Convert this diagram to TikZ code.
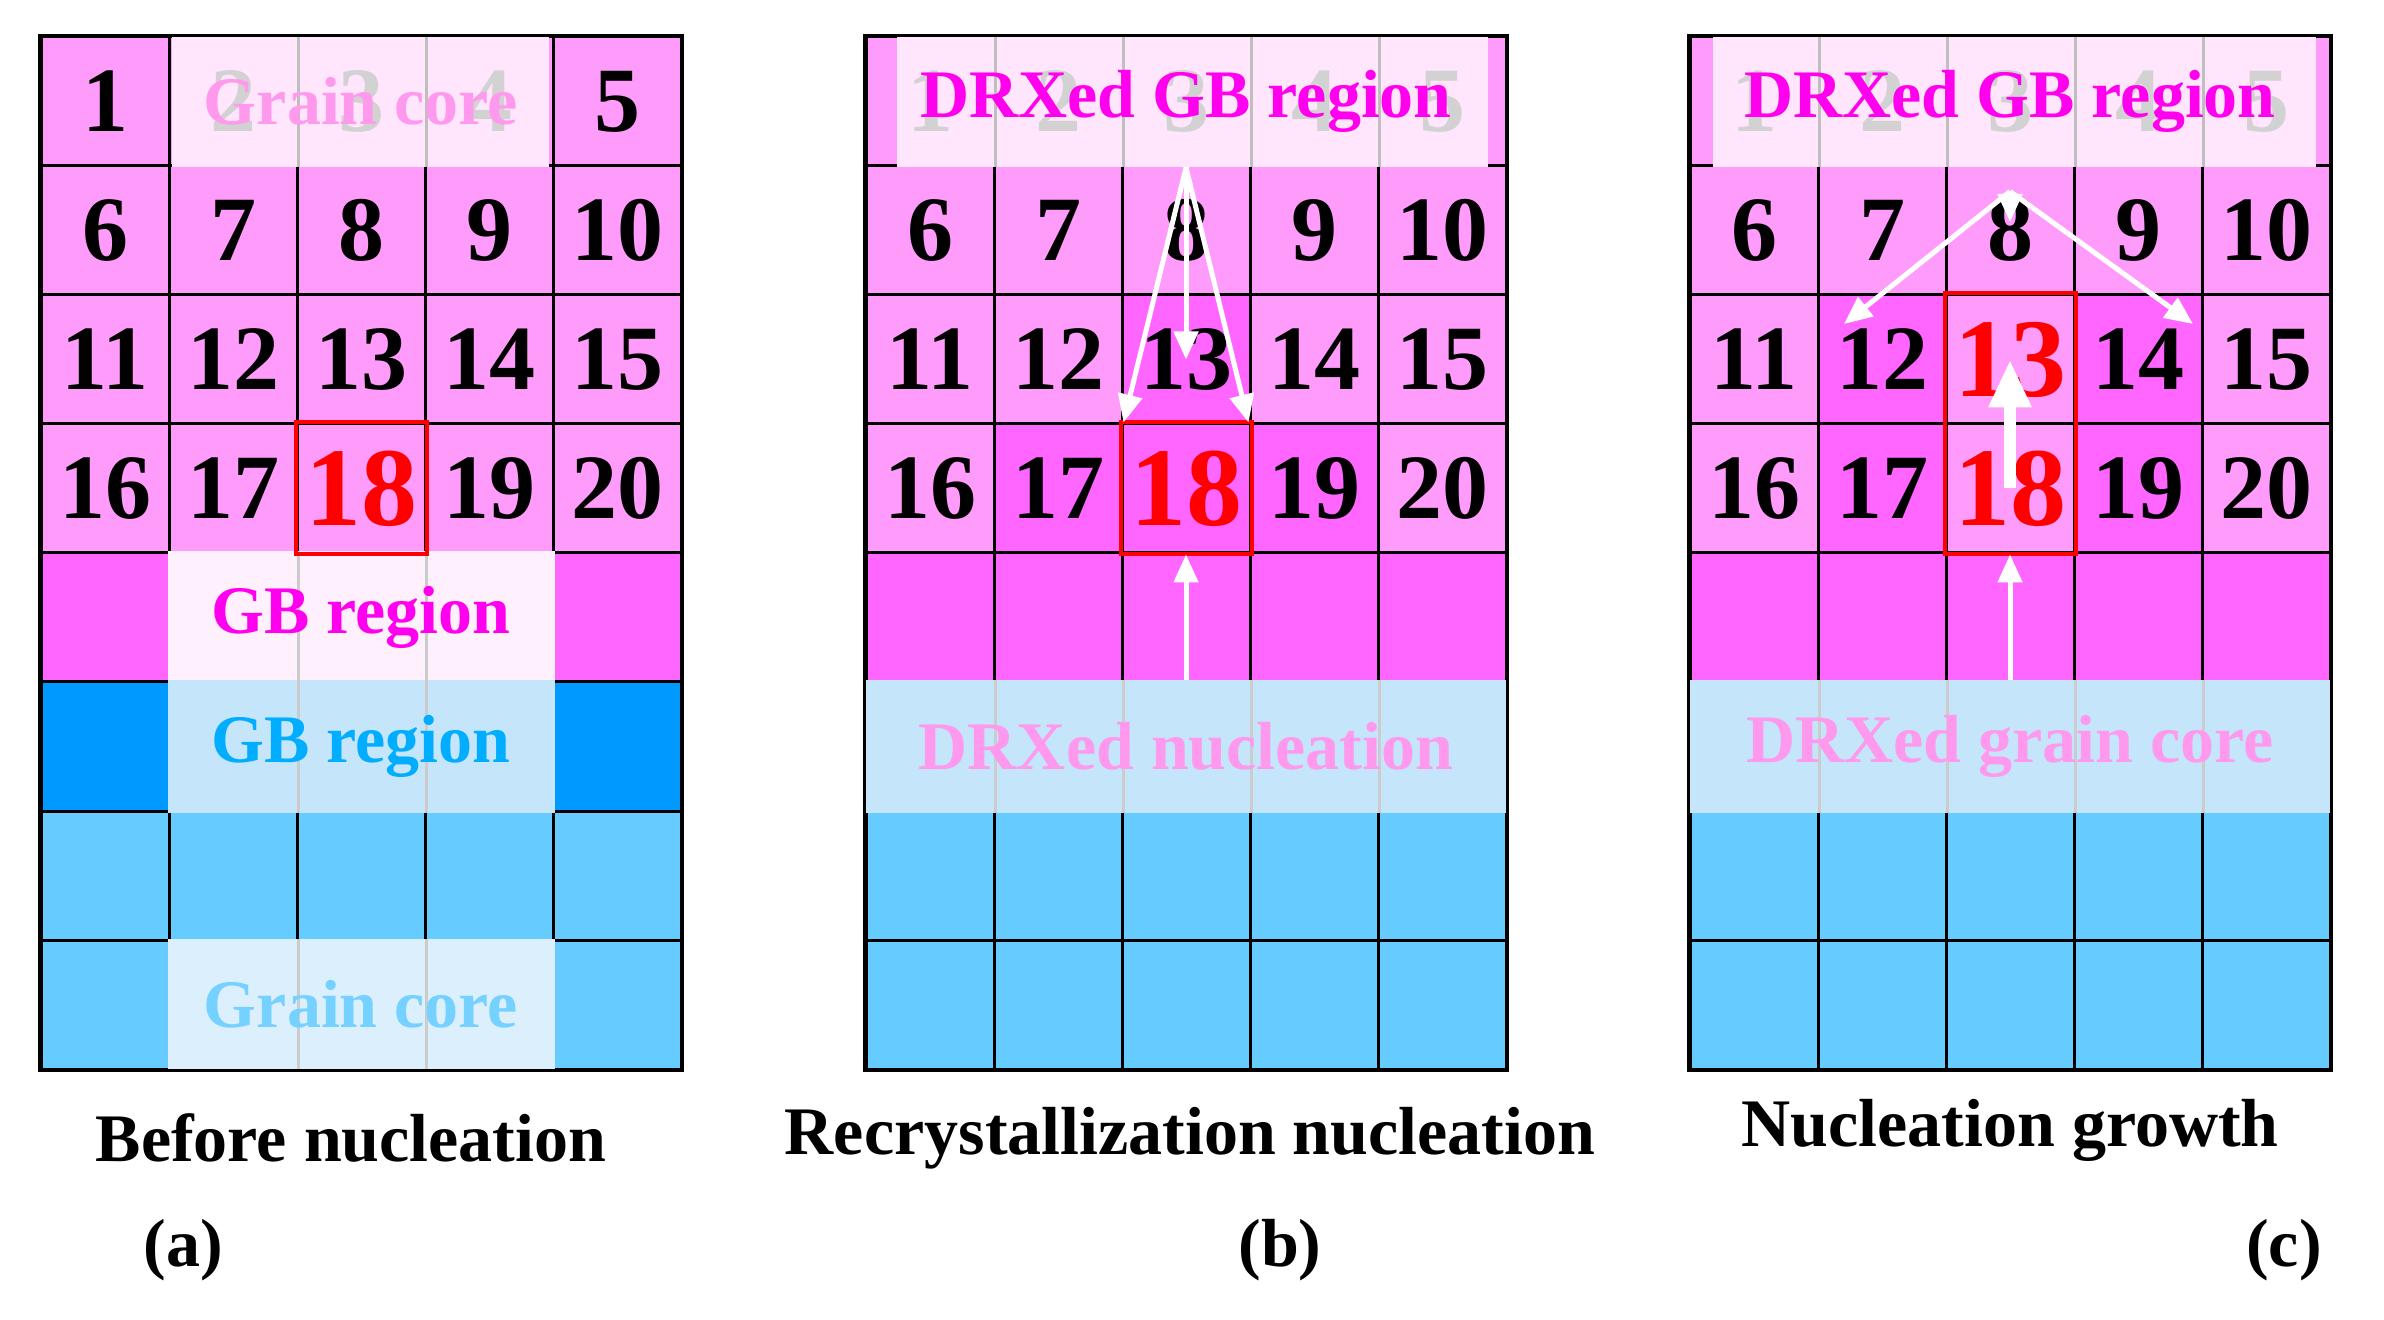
\documentclass[tikz,border=0pt]{standalone}
\usepackage{fontspec}
\setmainfont{Liberation Serif}
\usetikzlibrary{arrows.meta}
\definecolor{LP}{HTML}{FF9BFA}
\definecolor{MG}{HTML}{FF66FF}
\definecolor{BL}{HTML}{0099FF}
\definecolor{LB}{HTML}{66CCFF}
\definecolor{ovP}{HTML}{FFE6FC}
\definecolor{ovB}{HTML}{C5E5FA}
\definecolor{txP}{HTML}{FF99EE}
\definecolor{txM}{HTML}{FF00EE}
\tikzset{
 cell/.style={draw=black,line width=1.5pt,minimum width=64pt,minimum height=64.5pt,inner sep=0pt,font=\fontsize{46}{46}\selectfont\bfseries},
 bigred/.style={text=red,font=\fontsize{56}{56}\selectfont\bfseries},
 redbox/.style={draw=red,line width=2pt},
 wa/.style={draw=white,line width=2.5pt,-{Triangle[length=14pt,width=12pt]}},
 lbl/.style={font=\fontsize{34}{34}\selectfont\bfseries,inner sep=0pt},
 captxt/.style={font=\fontsize{34}{34}\selectfont\bfseries,inner sep=0pt},
 ghost/.style={text=gray!35,font=\fontsize{46}{46}\selectfont\bfseries,inner sep=0pt}
}
\begin{document}
\begin{tikzpicture}[x=0.5pt,y=-0.5pt]
\useasboundingbox (0,0) rectangle (2384,1320);
\fill[white] (0,0) rectangle (2384,1320);
% grids
\foreach \p/\xo in {a/41,b/866,c/1690}{
 \foreach \r in {1,...,8}{
  \foreach \c in {1,...,5}{
   \pgfmathtruncatemacro{\n}{5*(\r-1)+\c}
   \ifnum\r<5 \def\cc{LP}\def\celltxt{\n}\else\ifnum\r=5 \def\cc{MG}\def\celltxt{}\else\def\cc{LB}\def\celltxt{}\fi\fi
   \node[cell,fill=\cc] (\p-\r-\c) at ({\xo+64+128*(\c-1)},{37+64.5+129*(\r-1)}) {\celltxt};
  }}}
% panel a special
\foreach \c in {1,5}{\node[cell,fill=BL] (a-6-\c x) at (a-6-\c) {};}
\node[cell,fill=LP,bigred] (a18) at (a-4-3) {18};
% overlays panel a
\fill[ovP] ([xshift=2pt]a-1-2.north west) rectangle ([xshift=-3pt]a-1-4.south east);
\foreach \c/\n in {2/2,3/3,4/4}{\node[ghost] at (a-1-\c) {\n};}
\foreach \c in {2,3}{\draw[gray!50,line width=1.5pt] (a-1-\c.north east)--(a-1-\c.south east);}
\node[lbl,text=txP] (agc) at (a-1-3) {Grain core};
\fill[ovP!80!MG!30] (a-5-2.north west) rectangle (a-5-4.south east);
\foreach \c in {2,3}{\draw[gray!40,line width=1.5pt] (a-5-\c.north east)--(a-5-\c.south east);}
\node[lbl,text=txM] (agb) at (a-5-3) {GB region};
\fill[ovB] (a-6-2.north west) rectangle (a-6-4.south east);
\foreach \c in {2,3}{\draw[gray!40,line width=1.5pt] (a-6-\c.north east)--(a-6-\c.south east);}
\node[lbl,text=BL!80!cyan] (agb2) at (a-6-3) {GB region};
\fill[ovB!60!white] (a-8-2.north west) rectangle (a-8-4.south east);
\foreach \c in {2,3}{\draw[gray!40,line width=1.5pt] (a-8-\c.north east)--(a-8-\c.south east);}
\node[lbl,text=LB!90!white] (agc2) at (a-8-3) {Grain core};
\draw[black,line width=1.5pt] (a-1-1.north west) rectangle (a-8-5.south east);
\draw[redbox] (a18.south west) rectangle (a18.north east);
% panel b special
\node[cell,fill=MG] at (b-3-3) {13};
\node[cell,fill=MG] at (b-4-2) {17};
\node[cell,fill=MG] at (b-4-4) {19};
\node[cell,fill=MG,bigred] (b18) at (b-4-3) {18};
\fill[ovP] ([xshift=16pt]b-1-1.north west) rectangle ([xshift=-10pt]b-1-5.south east);
\foreach \c in {1,...,5}{\node[ghost] at (b-1-\c) {\c};}
\foreach \c in {1,...,4}{\draw[gray!50,line width=1.5pt] (b-1-\c.north east)--(b-1-\c.south east);}
\node[lbl,text=txM] (bgb) at (b-1-3) {DRXed GB region};
\fill[ovB] (b-6-1.north west) rectangle (b-6-5.south east);
\foreach \c in {1,...,4}{\draw[gray!40,line width=1.5pt] (b-6-\c.north east)--(b-6-\c.south east);}
\node[lbl,text=txP] (bnu) at (b-6-3) {DRXed nucleation};
\draw[black,line width=1.5pt] (b-1-1.north west) rectangle (b-8-5.south east);
\draw[redbox] (b18.south west) rectangle (b18.north east);
\coordinate (bs) at (b-1-3.south);
\draw[wa] (bs) -- (b-4-2.north east);
\draw[wa] (bs) -- (b-3-3.center);
\draw[wa] (bs) -- (b-4-4.north west);
\draw[wa] (b-6-3.north) -- (b18.south);
% panel c special
\foreach \k/\n in {1-3/8,3-2/12,3-4/14,4-2/17,4-4/19}{\node[cell,fill=MG] at (c-\k) {\n};}
\node[cell,fill=LP,bigred] (c13) at (c-3-3) {13};
\node[cell,fill=LP,bigred] (c18) at (c-4-3) {18};
\fill[ovP] ([xshift=12pt]c-1-1.north west) rectangle ([xshift=-8pt]c-1-5.south east);
\foreach \c in {1,...,5}{\node[ghost] at (c-1-\c) {\c};}
\foreach \c in {1,...,4}{\draw[gray!50,line width=1.5pt] (c-1-\c.north east)--(c-1-\c.south east);}
\node[lbl,text=txM] (cgb) at (c-1-3) {DRXed GB region};
\fill[ovB] (c-6-1.north west) rectangle (c-6-5.south east);
\foreach \c in {1,...,4}{\draw[gray!40,line width=1.5pt] (c-6-\c.north east)--(c-6-\c.south east);}
\node[lbl,text=txP] (cgc) at (c-6-3) {DRXed grain core};
\draw[black,line width=1.5pt] (c-1-1.north west) rectangle (c-8-5.south east);
\draw[redbox] (c18.south west) rectangle (c13.north east);
\coordinate (cs) at ([yshift=-12pt]c-1-3.south);
\draw[wa] (cs) -- (1844,324);
\draw[wa] (cs) -- (c-1-3.south |- 0,222);
\draw[wa] (cs) -- (2193,324);
\draw[draw=white,line width=6pt,-{Triangle[length=24pt,width=20pt]}] (c18.center) -- (c13.center);
\draw[wa] (c-6-3.north) -- (c18.south);
% captions
\node[captxt] (ca) at (351,1138) {Before nucleation};
\node[captxt] (cb) at (1190,1138) {Recrystallization nucleation};
\node[captxt] (cc) at (2010,1130) {Nucleation growth};
\node[captxt] (la) at (183,1250) {(a)};
\node[captxt] (lb) at (1280,1250) {(b)};
\node[captxt] (lc) at (2284,1250) {(c)};
\end{tikzpicture}
\end{document}
